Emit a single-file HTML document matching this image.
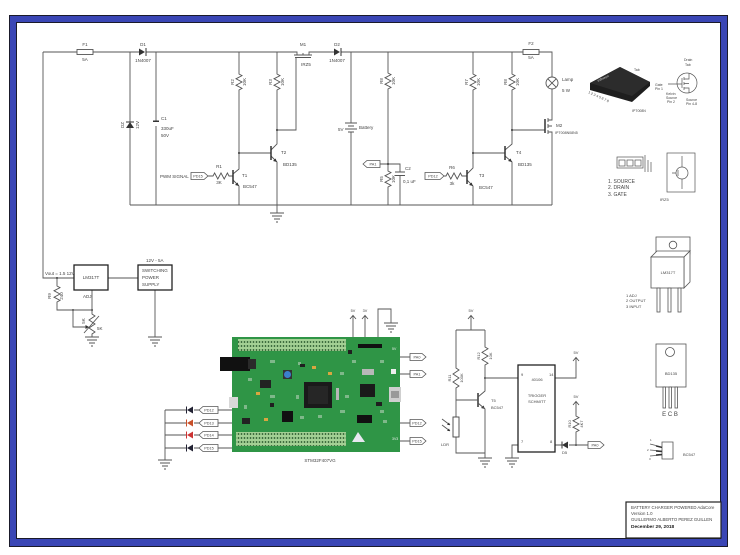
<!DOCTYPE html>
<html><head><meta charset="utf-8"><style>
html,body{margin:0;padding:0;background:#fff;}
svg{display:block;}
text{font-family:"Liberation Sans",sans-serif;fill:#444;}
</style></head><body>
<svg width="740" height="555" viewBox="0 0 740 555" xmlns="http://www.w3.org/2000/svg">
<defs>
<pattern id="hdr" width="3" height="4" patternUnits="userSpaceOnUse">
<rect width="3" height="4" fill="#a3d094"/>
<rect x="0.8" y="1" width="1.4" height="2" fill="#3f6e3f"/>
</pattern>
</defs>
<!-- frame -->
<rect x="9.5" y="15.5" width="718" height="531" fill="#3a46b5" stroke="#1a1a2a"/>
<rect x="16.5" y="22.5" width="704" height="516" fill="#fff" stroke="#1a1a2a"/>

<!-- ===== top schematic wires ===== -->
<g fill="none" stroke="#555" stroke-width="0.9">
<path d="M43,52 H77 M93,52 H139 M146,52 H293 M313,52 H334 M341,52 H523 M539,52 H552 V77 M552,89 V120 H548 M548,132 H552 V205"/>
<path d="M43,52 V278 H74"/>
<path d="M130,52 V122 M130,128 V205 M156,52 V121 M156,126 V205 M130,205 H552"/>
<path d="M239,52 V74 l3,1.6 l-6,3.2 l6,3.2 l-6,3.2 l6,3.2 l-3,1.6 V169 L233,174 M233,180 L239,186 V205"/>
<path d="M207,176 H213 l1.6,-3 l3.2,6 l3.2,-6 l3.2,6 l3.2,-6 l1.6,3 H233"/>
<path d="M239,153 H271"/>
<path d="M277,52 V74 l3,1.6 l-6,3.2 l6,3.2 l-6,3.2 l6,3.2 l-3,1.6 V144 L271,150 M271,156 L277,162 V213"/>
<path d="M277,130 H296 V57.5"/>
<path d="M293,52 H297 V55 M309,55 V52 H313 M303,55 V53 M294,55 H312 M295,57.5 H311"/>
<path d="M351,52 V123 M345,123 H357 M348,126 H354 M345,129 H357 M348,132 H354 M351,132 V205"/>
<path d="M388,52 V73 l3,1.6 l-6,3.2 l6,3.2 l-6,3.2 l6,3.2 l-3,1.6 V171 l3,1.6 l-6,3.2 l6,3.2 l-6,3.2 l6,3.2 l-3,1.6 V205"/>
<path d="M380,164 H400 V172 M395,172 H405 M395,175.5 H405 M400,175.5 V205"/>
<path d="M473,52 V74 l3,1.6 l-6,3.2 l6,3.2 l-6,3.2 l6,3.2 l-3,1.6 V168 L467,174 M467,180 L473,186 V205"/>
<path d="M444,176 H446 l1.6,-3 l3.2,6 l3.2,-6 l3.2,6 l3.2,-6 l1.6,3 H467"/>
<path d="M473,153 H505"/>
<path d="M512,52 V74 l3,1.6 l-6,3.2 l6,3.2 l-6,3.2 l6,3.2 l-3,1.6 V144 L505,150 M505,156 L512,162 V205"/>
<path d="M512,130 H545 M548,118 V122 M548,124 V128 M548,130 V134 M548,126 H552"/>
<circle cx="552" cy="83" r="6"/>
<path d="M547.8,78.8 L556.2,87.2 M556.2,78.8 L547.8,87.2"/>
<rect x="77" y="49.5" width="16" height="5"/>
<rect x="523" y="49.5" width="16" height="5"/>
<!-- ground under T2 -->
<path d="M270,213 H284 M272,216 H282 M274,219 H280 M276,222 H278"/>
</g>
<g stroke="#333" stroke-width="1.5" fill="none">
<path d="M233,170 V184 M271,146 V160 M467,170 V184 M505,146 V160 M478,393 V407 M545,119 V133"/>
</g>
<g fill="#333" stroke="none">
<polygon points="139,48.5 139,55.5 145,52"/><rect x="145.5" y="48" width="1" height="8"/>
<polygon points="334,48.5 334,55.5 340,52"/><rect x="340.5" y="48" width="1" height="8"/>
<polygon points="126,128 134,128 130,122"/><rect x="126" y="121.5" width="8" height="1"/>
<rect x="153" y="120.5" width="6" height="1.5"/>
<polygon points="239,186 235,185 237.5,182.5"/>
<polygon points="277,162 273,161 275.5,158.5"/>
<polygon points="473,186 469,185 471.5,182.5"/>
<polygon points="512,162 508,161 510.5,158.5"/>
<polygon points="485,409 481,408 483.5,405.5"/>
<circle cx="239" cy="153" r="1"/><circle cx="277" cy="130" r="1"/><circle cx="388" cy="164" r="1"/>
<circle cx="473" cy="153" r="1"/><circle cx="512" cy="130" r="1"/>
<circle cx="57" cy="278" r="1"/><circle cx="73" cy="310" r="1"/><circle cx="92" cy="310" r="1"/>
<circle cx="485" cy="378" r="1"/><circle cx="576" cy="445" r="1"/>
</g>
<!-- top labels -->
<g font-size="4.5" text-anchor="middle">
<text x="85" y="46">F1</text><text x="85" y="61">5A</text>
<text x="143" y="46">D1</text><text x="143" y="62">1N4007</text>
<text x="303" y="46">M1</text><text x="306" y="66">IRZ5</text>
<text x="337" y="46">D2</text><text x="337" y="62">1N4007</text>
<text x="219" y="168">R1</text><text x="219" y="184">3K</text>
<text x="452" y="169">R6</text><text x="452" y="185">3k</text>
<text x="531" y="45">F2</text><text x="531" y="59">5A</text>
<text transform="translate(124,125) rotate(-90)">DZ</text>
<text transform="translate(139,125) rotate(-90)">12V</text>
<text transform="translate(234,82) rotate(-90)">R2</text>
<text transform="translate(246,82) rotate(-90)">10K</text>
<text transform="translate(272,82) rotate(-90)">R3</text>
<text transform="translate(284,82) rotate(-90)">10K</text>
<text transform="translate(383,81) rotate(-90)">R8</text>
<text transform="translate(395,81) rotate(-90)">10K</text>
<text transform="translate(383,179) rotate(-90)">R5</text>
<text transform="translate(395,179) rotate(-90)">10K</text>
<text transform="translate(468,82) rotate(-90)">R7</text>
<text transform="translate(480,82) rotate(-90)">10K</text>
<text transform="translate(507,82) rotate(-90)">R8</text>
<text transform="translate(519,82) rotate(-90)">10K</text>
</g>
<g font-size="4.5">
<text x="161" y="120">C1</text><text x="161" y="130">330uF</text><text x="161" y="137">50V</text>
<text x="160" y="178">PWM SIGNAL</text>
<text x="242" y="177">T1</text><text x="243" y="188">BC547</text>
<text x="281" y="154">T2</text><text x="283" y="166">BD135</text>
<text x="338" y="131">5V</text><text x="359" y="129">Battery</text>
<text x="405" y="170">C2</text><text x="403" y="183">0,1 uF</text>
<text x="479" y="177">T3</text><text x="479" y="189">BC547</text>
<text x="516" y="154">T4</text><text x="518" y="166">BD135</text>
<text x="562" y="81">Lamp</text><text x="562" y="92">5 W</text>
<text x="556" y="127">M2</text>
<text x="555" y="134" font-size="3.6">IPT008N08N5</text>
</g>
<!-- pentagon labels top -->
<g fill="#fff" stroke="#555" stroke-width="0.8">
<polygon points="191,172.5 204,172.5 208,176 204,179.5 191,179.5"/>
<polygon points="425,172.5 440,172.5 444,176 440,179.5 425,179.5"/>
<polygon points="363,164 367,160.5 380,160.5 380,167.5 367,167.5"/>
</g>
<g font-size="3.8" text-anchor="middle">
<text x="198" y="177.4">PD15</text>
<text x="433" y="177.4">PD12</text>
<text x="373" y="165.4">PA1</text>
</g>

<!-- ===== bottom left: LM317 + SMPS ===== -->
<g fill="none" stroke="#555" stroke-width="0.9">
<path d="M108,278 H138 M155,290 V337 M92,290 V314 l3,2 l-6,4 l6,4 l-6,4 l6,4 l-3,2 V337"/>
<path d="M57,278 V286 l3,1.6 l-6,3.2 l6,3.2 l-6,3.2 l6,3.2 l-3,1.6 V310 H92 M73,310 V327 H86"/>
<path d="M84,333 L99,316"/>
<path d="M148,337 H162 M150,340 H160 M152,343 H158 M154,346 H156"/>
<path d="M85,337 H99 M87,340 H97 M89,343 H95 M91,346 H93"/>
</g>
<polygon points="89,327 85.5,325 85.5,329" fill="#333"/>
<rect x="74" y="265" width="34" height="25" fill="none" stroke="#222" stroke-width="1.3"/>
<rect x="138" y="265" width="34" height="25" fill="none" stroke="#222" stroke-width="1.3"/>
<g font-size="4.5">
<text x="91" y="279" text-anchor="middle">LM317T</text>
<text x="142" y="272">SWITCHING</text><text x="142" y="279">POWER</text><text x="142" y="286">SUPPLY</text>
<text x="146" y="262">12V - 5A</text>
<text x="45" y="275">Vout = 1.5 12V</text>
<text x="83" y="298">ADJ</text>
<text transform="translate(51,296) rotate(-90)" text-anchor="middle">R9</text>
<text transform="translate(63,296) rotate(-90)" text-anchor="middle">240</text>
<text transform="translate(85,321) rotate(-90)" text-anchor="middle">5K</text>
<text x="97" y="330">5K</text>
</g>

<!-- ===== STM32 board ===== -->
<rect x="232" y="337" width="168" height="115" fill="#2f9546"/>
<rect x="238" y="339" width="108" height="12" fill="url(#hdr)"/>
<rect x="236" y="432" width="110" height="14" fill="url(#hdr)"/>
<rect x="220" y="357" width="30" height="14" fill="#111"/>
<rect x="248" y="359" width="8" height="10" fill="#2a2a2a"/>
<rect x="283" y="370" width="9" height="9" fill="#333"/>
<circle cx="287.5" cy="374.5" r="3.5" fill="#3b7fcc"/>
<rect x="304" y="382" width="28" height="26" fill="#1a1a1a"/>
<rect x="308" y="386" width="20" height="18" fill="#262626"/>
<rect x="360" y="384" width="15" height="13" fill="#1a1a1a"/>
<rect x="282" y="411" width="11" height="11" fill="#111"/>
<rect x="229" y="397" width="9" height="11" fill="#d8d8d8"/>
<rect x="389" y="387" width="12" height="15" fill="#cfcfcf"/>
<rect x="391" y="391" width="8" height="7" fill="#9a9a9a"/>
<rect x="358" y="344" width="24" height="4" fill="#111"/>
<rect x="362" y="369" width="12" height="6" fill="#b8b8b8"/>
<rect x="357" y="415" width="15" height="8" fill="#111"/>
<rect x="260" y="380" width="11" height="8" fill="#222"/>
<rect x="242" y="418" width="8" height="6" fill="#222"/>
<rect x="336" y="388" width="3" height="12" fill="#b8b8b8"/>
<polygon points="352,442 358,432 365,442" fill="#e8e8f0"/>
<rect x="391" y="369" width="5" height="5" fill="#eee"/>
<g fill="#d9a640">
<rect x="312" y="366" width="4" height="3"/><rect x="328" y="372" width="4" height="3"/>
<rect x="264" y="418" width="4" height="3"/><rect x="256" y="392" width="4" height="3"/>
</g>
<g fill="#7fb88a">
<rect x="248" y="378" width="4" height="3"/><rect x="270" y="395" width="5" height="3"/><rect x="296" y="395" width="3" height="4"/>
<rect x="340" y="372" width="4" height="3"/><rect x="345" y="395" width="4" height="3"/><rect x="340" y="410" width="5" height="3"/>
<rect x="300" y="416" width="4" height="3"/><rect x="318" y="415" width="4" height="3"/><rect x="380" y="360" width="4" height="3"/>
<rect x="380" y="410" width="4" height="3"/><rect x="244" y="405" width="3" height="4"/><rect x="352" y="360" width="4" height="3"/>
<rect x="270" y="360" width="5" height="3"/><rect x="298" y="362" width="3" height="3"/><rect x="383" y="420" width="4" height="3"/>
</g>
<g fill="#1f1f1f">
<rect x="300" y="364" width="5" height="3"/><rect x="270" y="403" width="4" height="4"/><rect x="376" y="402" width="6" height="4"/>
<rect x="348" y="350" width="4" height="4"/>
</g>
<text x="320" y="462" font-size="4.5" text-anchor="middle">STM32F407VG</text>
<text x="392" y="350" font-size="3.5" fill="#eee" style="fill:#eee">5V</text>
<text x="392" y="440" font-size="3.5" style="fill:#eee">3V3</text>

<g fill="none" stroke="#555" stroke-width="0.9">
<path d="M353,337 V316 M350,319 L353,315.5 L356,319 M365,337 V316 M362,319 L365,315.5 L368,319"/>
<path d="M378,337 V309 H391 V323 M384,323 H398 M386,326 H396 M388,329 H394 M390,332 H392"/>
<path d="M400,357 H410 M400,374 H410 M400,423 H410 M400,441 H410"/>
<path d="M218,410 H232 M218,423 H232 M218,435 H232 M218,448 H232"/>
<path d="M165,410 H186 M165,423 H186 M165,435 H186 M165,448 H186 M194,410 H199 M194,423 H199 M194,435 H199 M194,448 H199"/>
<path d="M165,410 V460 M158,460 H172 M160,463 H170 M162,466 H168 M164,469 H166"/>
</g>
<g stroke="none">
<polygon points="187,410 193,406.5 193,413.5" fill="#223"/><rect x="186" y="406.5" width="1" height="7" fill="#223"/>
<polygon points="187,423 193,419.5 193,426.5" fill="#c8502a"/><rect x="186" y="419.5" width="1" height="7" fill="#c8502a"/>
<polygon points="187,435 193,431.5 193,438.5" fill="#c33"/><rect x="186" y="431.5" width="1" height="7" fill="#c33"/>
<polygon points="187,448 193,444.5 193,451.5" fill="#223"/><rect x="186" y="444.5" width="1" height="7" fill="#223"/>
</g>
<g fill="#fff" stroke="#555" stroke-width="0.8">
<polygon points="410,353.5 422,353.5 426,357 422,360.5 410,360.5"/>
<polygon points="410,370.5 422,370.5 426,374 422,377.5 410,377.5"/>
<polygon points="410,419.5 422,419.5 426,423 422,426.5 410,426.5"/>
<polygon points="410,437.5 422,437.5 426,441 422,444.5 410,444.5"/>
<polygon points="199,410 203,406.5 218,406.5 218,413.5 203,413.5"/>
<polygon points="199,423 203,419.5 218,419.5 218,426.5 203,426.5"/>
<polygon points="199,435 203,431.5 218,431.5 218,438.5 203,438.5"/>
<polygon points="199,448 203,444.5 218,444.5 218,451.5 203,451.5"/>
<polygon points="588,441.5 600,441.5 604,445 600,448.5 588,448.5"/>
</g>
<g font-size="3.8" text-anchor="middle">
<text x="417" y="358.4">PA0</text><text x="417" y="375.4">PA1</text>
<text x="417" y="424.4">PD12</text><text x="417" y="442.4">PD15</text>
<text x="209" y="411.4">PD12</text><text x="209" y="424.4">PD13</text>
<text x="209" y="436.4">PD14</text><text x="209" y="449.4">PD15</text>
<text x="595" y="446.4">PA0</text>
<text x="353" y="312">5V</text><text x="365" y="312">3V</text>
</g>

<!-- ===== Schmitt trigger circuit ===== -->
<g fill="none" stroke="#555" stroke-width="0.9">
<path d="M471,330 V316 M468,319 L471,315.5 L474,319 M456,330 H485"/>
<path d="M456,330 V368 l3,2 l-6,4 l6,4 l-6,4 l6,4 l-3,2 V417 M456,437 V453 H485"/>
<path d="M456,400 H478"/>
<path d="M485,330 V347 l3,1.8 l-6,3.6 l6,3.6 l-6,3.6 l6,3.6 l-3,1.8 V391 L478,397 M478,403 L485,409 V458"/>
<path d="M478,458 H492 M480,461 H490 M482,464 H488 M484,467 H486"/>
<path d="M485,378 H518"/>
<path d="M555,378 H576 V358 M573,361 L576,357.5 L579,361"/>
<path d="M518,445 H512 V458 M505,458 H519 M507,461 H517 M509,464 H515 M511,467 H513"/>
<path d="M555,445 H562 M569,445 H588"/>
<path d="M576,445 V432 l3,-1.6 l-6,-3.2 l6,-3.2 l-6,-3.2 l6,-3.2 l-3,-1.6 V402 M573,405 L576,401.5 L579,405"/>
<path d="M442,419 L450,425 M442,425 L450,431"/>
</g>
<rect x="453" y="417" width="6" height="20" fill="#fff" stroke="#444" stroke-width="0.9"/>
<polygon points="562,445 568,441.5 568,448.5" fill="#333"/><rect x="561.5" y="441.5" width="1" height="7" fill="#333"/>
<polygon points="450,425 447,425 449,422.5" fill="#333"/><polygon points="450,431 447,431 449,428.5" fill="#333"/>
<rect x="518" y="365" width="37" height="87" fill="#fff" stroke="#222" stroke-width="1.3"/>
<g font-size="4">
<text x="537" y="381" text-anchor="middle">40106</text>
<text x="537" y="397" text-anchor="middle">TRIGGER</text>
<text x="537" y="403" text-anchor="middle">SCHMITT</text>
<text x="521" y="376">9</text><text x="549" y="376">14</text>
<text x="521" y="443">7</text><text x="550" y="443">8</text>
<text x="491" y="402">T5</text><text x="491" y="409">BC547</text>
<text x="441" y="446">LDR</text><text x="562" y="454">D5</text>
<text x="471" y="312" text-anchor="middle">5V</text>
<text x="576" y="354" text-anchor="middle">5V</text>
<text x="576" y="398" text-anchor="middle">5V</text>
<text transform="translate(451,378) rotate(-90)" text-anchor="middle">R11</text>
<text transform="translate(463,378) rotate(-90)" text-anchor="middle">100K</text>
<text transform="translate(480,356) rotate(-90)" text-anchor="middle">R12</text>
<text transform="translate(492,356) rotate(-90)" text-anchor="middle">10K</text>
<text transform="translate(571,424) rotate(-90)" text-anchor="middle">R10</text>
<text transform="translate(583,424) rotate(-90)" text-anchor="middle">4K7</text>
</g>

<!-- ===== right-side component drawings ===== -->
<polygon points="590,83 620,67 650,82 650,86 632,102 590,90" fill="#1e1e1e"/>
<polygon points="590,83 620,67 650,82 632,96" fill="#2c2c2c"/>
<text x="598" y="82" font-size="3.5" style="fill:#ccc" transform="rotate(-25 598 82)">infineon</text>
<g font-size="3.5">
<text x="634" y="71">Tab</text>
<text x="632" y="112">IPT008N</text>
<text x="588" y="93" transform="rotate(25 588 93)">1 2 3 4 5 6 7 8</text>
<text x="684" y="61">Drain</text><text x="685" y="66">Tab</text>
<text x="655" y="86">Gate</text><text x="655" y="90">Pin 1</text>
<text x="666" y="95">Kelvin</text><text x="666" y="99">Source</text><text x="667" y="103">Pin 2</text>
<text x="686" y="101">Source</text><text x="686" y="105">Pin 4-8</text>
</g>
<g fill="none" stroke="#555" stroke-width="0.7">
<circle cx="687" cy="83" r="10"/>
<path d="M682,78 V88 M684,77 V80 M684,82 V85 M684,87 V90 M684,79 H689 V73 M684,88 H689 V93 M684,83.5 H689 M668,84 H682"/>
<rect x="617" y="157" width="26" height="11"/>
<rect x="619" y="160" width="6" height="6"/><rect x="627" y="160" width="6" height="6"/><rect x="635" y="160" width="6" height="6"/>
<path d="M645,155 V172 M648,160 V172 M651,162 V172"/>
<rect x="667" y="153" width="28" height="39"/>
<circle cx="682" cy="173" r="6"/>
<path d="M682,156 V167 M682,179 V189 M672,173 H676 M678,170 V176"/>
</g>
<g font-size="5">
<text x="608" y="183">1.  SOURCE</text>
<text x="608" y="189">2.  DRAIN</text>
<text x="608" y="196">3.  GATE</text>
</g>
<text x="660" y="201" font-size="4">IRZ5</text>

<!-- LM317T package -->
<g fill="#fff" stroke="#555" stroke-width="0.8">
<rect x="656" y="237" width="34" height="17"/>
<circle cx="673" cy="245" r="3.8"/>
<polygon points="651,257 657,251 690,251 684,257"/>
<polygon points="684,257 690,251 690,282 684,288"/>
<rect x="651" y="257" width="33" height="31"/>
<rect x="657" y="288" width="3" height="24"/><rect x="668" y="288" width="3" height="24"/><rect x="678" y="288" width="3" height="24"/>
</g>
<g font-size="4">
<text x="668" y="274" text-anchor="middle">LM317T</text>
<text x="626" y="297">1 ADJ</text><text x="626" y="302">2 OUTPUT</text><text x="626" y="308">3 INPUT</text>
</g>
<!-- BD135 package -->
<g fill="#fff" stroke="#555" stroke-width="0.8">
<rect x="656" y="344" width="30" height="43"/>
<circle cx="670" cy="352" r="4.5"/>
<rect x="663" y="387" width="2.5" height="21"/><rect x="669" y="387" width="2.5" height="21"/><rect x="675" y="387" width="2.5" height="21"/>
</g>
<text x="671" y="375" font-size="4" text-anchor="middle">BD135</text>
<text x="670" y="416" font-size="6" text-anchor="middle">E C B</text>
<!-- BC547 package -->
<g fill="#fff" stroke="#555" stroke-width="0.8">
<path d="M662,442 H673 V459 H662 Z"/>
<path d="M650,444 L662,447 M650,450 L662,451 M650,456 L662,455"/>
</g>
<g stroke="#333" stroke-width="1.4"><path d="M656,446 L662,447.5 M656,451 L662,451.5 M656,455 L662,454.5"/></g>
<text x="683" y="456" font-size="4">BC547</text>
<g font-size="3"><text x="650" y="441">1</text><text x="647" y="451">2</text><text x="649" y="460">3</text></g>

<!-- title block -->
<rect x="626" y="502" width="95" height="36" fill="#fff" stroke="#222" stroke-width="1.2"/>
<g font-size="4.3">
<text x="631" y="509">BATTERY CHARGER POWERED AdaCore</text>
<text x="631" y="515">Version 1.0</text>
<text x="631" y="521">GUILLERMO ALBERTO PEREZ GUILLEN</text>
<text x="631" y="528" font-weight="bold" font-size="4.8" style="fill:#222">December 29, 2018</text>
</g>
</svg>
</body></html>
